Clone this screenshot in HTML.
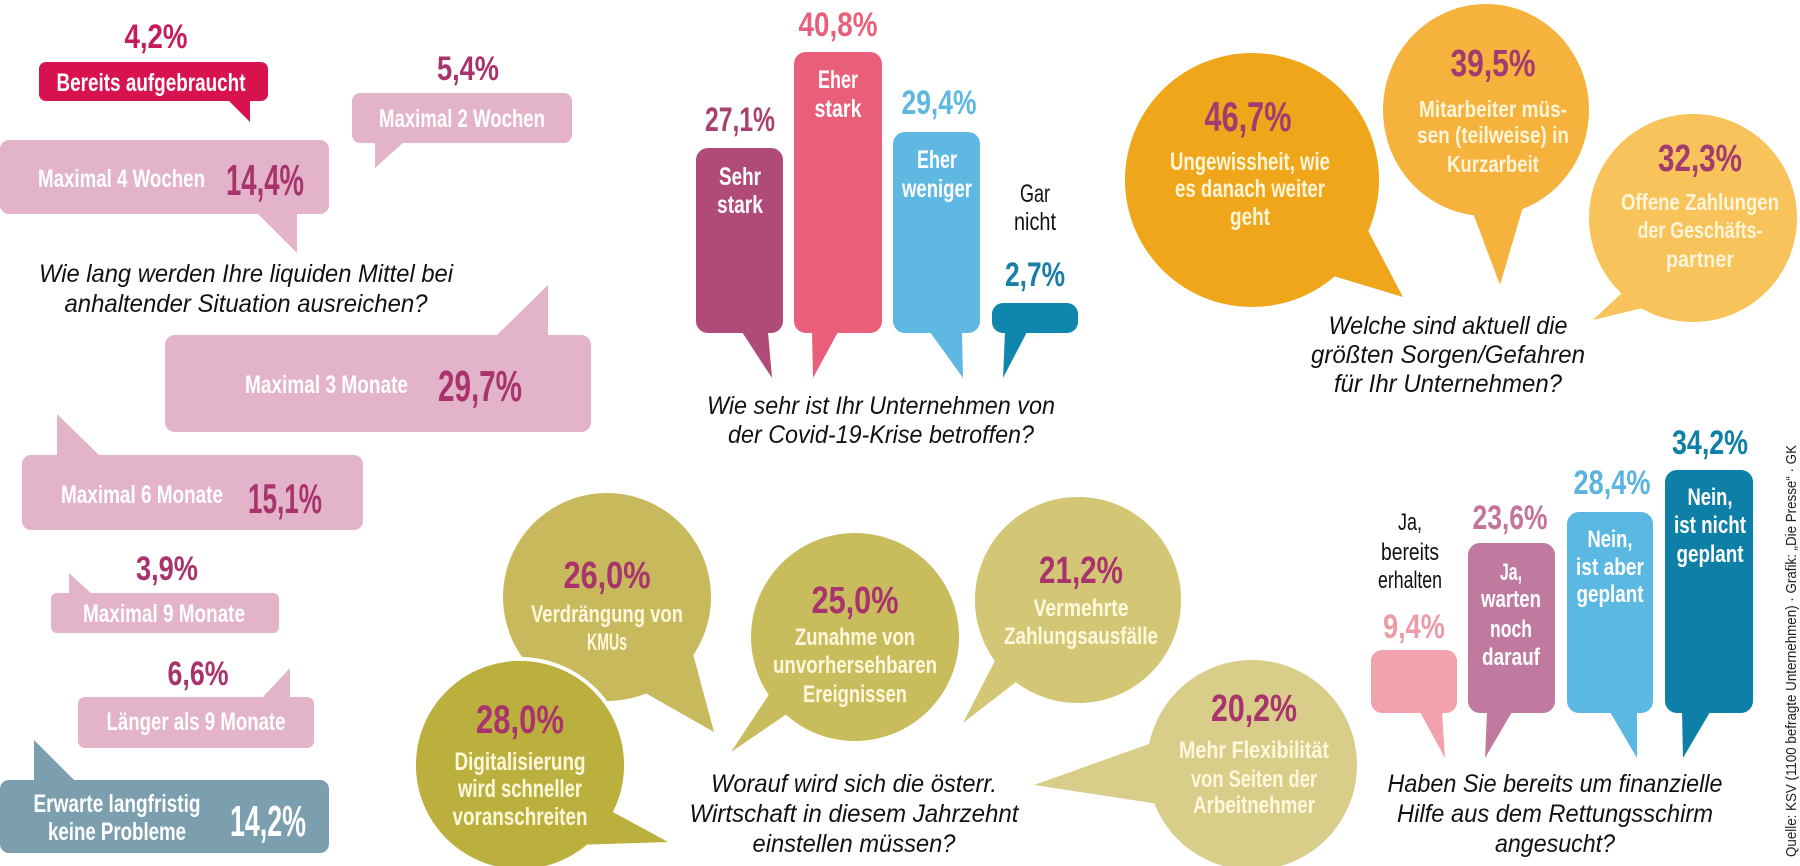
<!DOCTYPE html>
<html><head><meta charset="utf-8"><style>
html,body{margin:0;padding:0;background:#fff;width:1800px;height:866px;overflow:hidden}
svg{display:block}
text{font-family:"Liberation Sans Narrow","Liberation Sans",sans-serif}
.w{fill:#fff}
.q{font-style:italic;font-size:25px;fill:#111}
.p{fill:#a8336d}
.b{font-weight:bold}
</style></head><body>
<svg width="1800" height="866" viewBox="0 0 1800 866" xmlns="http://www.w3.org/2000/svg">
<g font-weight="bold">
<!-- LEFT COLUMN -->
<text x="156" y="48" text-anchor="middle" font-size="34" fill="#c61d5a" textLength="63" lengthAdjust="spacingAndGlyphs">4,2%</text>
<rect x="39" y="62" width="229" height="39" rx="7" fill="#d8114f"/>
<polygon points="228,100 250,122 250,100" fill="#d8114f"/>
<text x="151" y="91" text-anchor="middle" font-size="25" class="w" textLength="189" lengthAdjust="spacingAndGlyphs">Bereits aufgebraucht</text>

<text x="468" y="80" text-anchor="middle" font-size="34" class="p" textLength="62" lengthAdjust="spacingAndGlyphs">5,4%</text>
<rect x="352" y="93" width="220" height="50" rx="8" fill="#e2b3c9"/>
<polygon points="375,142 375,168 404,142" fill="#e2b3c9"/>
<text x="462" y="127" text-anchor="middle" font-size="25" class="w" textLength="166" lengthAdjust="spacingAndGlyphs">Maximal 2 Wochen</text>

<rect x="0" y="140" width="329" height="74" rx="9" fill="#e2b3c9"/>
<polygon points="257,213 297,253 297,213" fill="#e2b3c9"/>
<text x="38" y="187" font-size="25" class="w" textLength="167" lengthAdjust="spacingAndGlyphs">Maximal 4 Wochen</text>
<text x="226" y="195" font-size="44" class="p" textLength="78" lengthAdjust="spacingAndGlyphs">14,4%</text>
</g>
<text x="246" y="282" text-anchor="middle" class="q" textLength="414" lengthAdjust="spacingAndGlyphs">Wie lang werden Ihre liquiden Mittel bei</text>
<text x="246" y="312" text-anchor="middle" class="q" textLength="363" lengthAdjust="spacingAndGlyphs">anhaltender Situation ausreichen?</text>
<g font-weight="bold">
<rect x="165" y="335" width="426" height="97" rx="10" fill="#e2b3c9"/>
<polygon points="496,336 548,285 548,336" fill="#e2b3c9"/>
<text x="245" y="393" font-size="25" class="w" textLength="163" lengthAdjust="spacingAndGlyphs">Maximal 3 Monate</text>
<text x="438" y="401" font-size="44" class="p" textLength="84" lengthAdjust="spacingAndGlyphs">29,7%</text>

<rect x="22" y="455" width="341" height="75" rx="9" fill="#e2b3c9"/>
<polygon points="57,456 57,414 100,456" fill="#e2b3c9"/>
<text x="61" y="503" font-size="25" class="w" textLength="162" lengthAdjust="spacingAndGlyphs">Maximal 6 Monate</text>
<text x="248" y="513" font-size="42" class="p" textLength="74" lengthAdjust="spacingAndGlyphs">15,1%</text>

<text x="167" y="580" text-anchor="middle" font-size="34" class="p" textLength="62" lengthAdjust="spacingAndGlyphs">3,9%</text>
<rect x="51" y="593" width="228" height="40" rx="6" fill="#e2b3c9"/>
<polygon points="69,594 69,573 92,594" fill="#e2b3c9"/>
<text x="164" y="622" text-anchor="middle" font-size="25" class="w" textLength="162" lengthAdjust="spacingAndGlyphs">Maximal 9 Monate</text>

<text x="198" y="685" text-anchor="middle" font-size="34" class="p" textLength="61" lengthAdjust="spacingAndGlyphs">6,6%</text>
<rect x="78" y="697" width="236" height="51" rx="7" fill="#e2b3c9"/>
<polygon points="262,698 290,668 290,698" fill="#e2b3c9"/>
<text x="196" y="730" text-anchor="middle" font-size="25" class="w" textLength="179" lengthAdjust="spacingAndGlyphs">Länger als 9 Monate</text>

<rect x="0" y="780" width="329" height="73" rx="9" fill="#7b9fae"/>
<polygon points="34,781 34,740 75,781" fill="#7b9fae"/>
<text x="117" y="812" text-anchor="middle" font-size="25" class="w" textLength="167" lengthAdjust="spacingAndGlyphs">Erwarte langfristig</text>
<text x="117" y="840" text-anchor="middle" font-size="25" class="w" textLength="138" lengthAdjust="spacingAndGlyphs">keine Probleme</text>
<text x="230" y="836" font-size="44" class="w" textLength="76" lengthAdjust="spacingAndGlyphs">14,2%</text>

<!-- COVID BARS -->
<text x="740" y="131" text-anchor="middle" font-size="34" fill="#a9416f" textLength="70" lengthAdjust="spacingAndGlyphs">27,1%</text>
<rect x="696" y="148" width="87" height="185" rx="12" fill="#b04a78"/>
<polygon points="742,332 772,378 768,332" fill="#b04a78"/>
<text x="740" y="185" text-anchor="middle" font-size="25" class="w" textLength="42" lengthAdjust="spacingAndGlyphs">Sehr</text>
<text x="740" y="213" text-anchor="middle" font-size="25" class="w" textLength="46" lengthAdjust="spacingAndGlyphs">stark</text>

<text x="838" y="36" text-anchor="middle" font-size="34" fill="#e8617c" textLength="79" lengthAdjust="spacingAndGlyphs">40,8%</text>
<rect x="794" y="52" width="88" height="281" rx="12" fill="#e95e79"/>
<polygon points="812,332 813,378 838,332" fill="#e95e79"/>
<text x="838" y="88" text-anchor="middle" font-size="25" class="w" textLength="40" lengthAdjust="spacingAndGlyphs">Eher</text>
<text x="838" y="117" text-anchor="middle" font-size="25" class="w" textLength="47" lengthAdjust="spacingAndGlyphs">stark</text>

<text x="939" y="114" text-anchor="middle" font-size="34" fill="#5fb8e2" textLength="75" lengthAdjust="spacingAndGlyphs">29,4%</text>
<rect x="893" y="132" width="87" height="201" rx="12" fill="#5fb8e2"/>
<polygon points="930,332 963,378 962,332" fill="#5fb8e2"/>
<text x="937" y="168" text-anchor="middle" font-size="25" class="w" textLength="40" lengthAdjust="spacingAndGlyphs">Eher</text>
<text x="937" y="197" text-anchor="middle" font-size="25" class="w" textLength="70" lengthAdjust="spacingAndGlyphs">weniger</text>
</g>
<text x="1035" y="202" text-anchor="middle" font-size="25" fill="#111" textLength="30" lengthAdjust="spacingAndGlyphs">Gar</text>
<text x="1035" y="230" text-anchor="middle" font-size="25" fill="#111" textLength="42" lengthAdjust="spacingAndGlyphs">nicht</text>
<g font-weight="bold">
<text x="1035" y="286" text-anchor="middle" font-size="34" fill="#1a7fa8" textLength="60" lengthAdjust="spacingAndGlyphs">2,7%</text>
<rect x="992" y="303" width="86" height="30" rx="11" fill="#0e86ad"/>
<polygon points="1005,332 1003,378 1027,332" fill="#0e86ad"/>
</g>
<text x="881" y="414" text-anchor="middle" class="q" textLength="348" lengthAdjust="spacingAndGlyphs">Wie sehr ist Ihr Unternehmen von</text>
<text x="881" y="443" text-anchor="middle" class="q" textLength="306" lengthAdjust="spacingAndGlyphs">der Covid-19-Krise betroffen?</text>

<g font-weight="bold">
<!-- ORANGE CIRCLES -->
<ellipse cx="1486" cy="110" rx="103" ry="106" fill="#f5b23c"/>
<polygon points="1470,205 1500,285 1525,200" fill="#f5b23c"/>
<circle cx="1252" cy="180" r="127" fill="#f0a61a"/>
<polygon points="1330,275 1403,297 1365,225" fill="#f0a61a"/>
<circle cx="1693" cy="218" r="104" fill="#f7c35a"/>
<polygon points="1625,290 1593,320 1655,305" fill="#f7c35a"/>

<text x="1248" y="131" text-anchor="middle" font-size="42" fill="#a33a70" textLength="87" lengthAdjust="spacingAndGlyphs">46,7%</text>
<text x="1250" y="170" text-anchor="middle" font-size="25" fill="#fff5d8" textLength="160" lengthAdjust="spacingAndGlyphs">Ungewissheit, wie</text>
<text x="1250" y="197" text-anchor="middle" font-size="25" fill="#fff5d8" textLength="150" lengthAdjust="spacingAndGlyphs">es danach weiter</text>
<text x="1250" y="225" text-anchor="middle" font-size="25" fill="#fff5d8" textLength="40" lengthAdjust="spacingAndGlyphs">geht</text>

<text x="1493" y="76" text-anchor="middle" font-size="38" fill="#a33a70" textLength="85" lengthAdjust="spacingAndGlyphs">39,5%</text>
<text x="1493" y="117" text-anchor="middle" font-size="23" fill="#fff5d8" textLength="148" lengthAdjust="spacingAndGlyphs">Mitarbeiter müs-</text>
<text x="1493" y="143" text-anchor="middle" font-size="23" fill="#fff5d8" textLength="152" lengthAdjust="spacingAndGlyphs">sen (teilweise) in</text>
<text x="1493" y="172" text-anchor="middle" font-size="23" fill="#fff5d8" textLength="92" lengthAdjust="spacingAndGlyphs">Kurzarbeit</text>

<text x="1700" y="171" text-anchor="middle" font-size="38" fill="#a33a70" textLength="84" lengthAdjust="spacingAndGlyphs">32,3%</text>
<text x="1700" y="210" text-anchor="middle" font-size="23" fill="#fff5d8" textLength="158" lengthAdjust="spacingAndGlyphs">Offene Zahlungen</text>
<text x="1700" y="238" text-anchor="middle" font-size="23" fill="#fff5d8" textLength="125" lengthAdjust="spacingAndGlyphs">der Geschäfts-</text>
<text x="1700" y="267" text-anchor="middle" font-size="23" fill="#fff5d8" textLength="68" lengthAdjust="spacingAndGlyphs">partner</text>
</g>
<text x="1448" y="334" text-anchor="middle" class="q" textLength="239" lengthAdjust="spacingAndGlyphs">Welche sind aktuell die</text>
<text x="1448" y="363" text-anchor="middle" class="q" textLength="274" lengthAdjust="spacingAndGlyphs">größten Sorgen/Gefahren</text>
<text x="1448" y="392" text-anchor="middle" class="q" textLength="228" lengthAdjust="spacingAndGlyphs">für Ihr Unternehmen?</text>

<g font-weight="bold">
<!-- OLIVE CIRCLES -->
<circle cx="607" cy="597" r="104" fill="#c8ba5c"/>
<polygon points="640,690 714,732 692,650" fill="#c8ba5c"/>
<circle cx="855" cy="637" r="104" fill="#c9bc5d"/>
<polygon points="800,705 731,752 772,690" fill="#c9bc5d"/>
<circle cx="1252" cy="765" r="105" fill="#d8cd89"/>
<polygon points="1160,740 1034,785 1165,805" fill="#d8cd89"/>
<circle cx="1078" cy="600" r="105" fill="#d3c776" stroke="#fff" stroke-width="4"/>
<polygon points="1025,675 963,723 1003,645" fill="#d3c776"/>
<circle cx="1078" cy="600" r="103" fill="#d3c776"/>
<circle cx="520" cy="765" r="106" fill="#bbaf3e" stroke="#fff" stroke-width="4"/>
<polygon points="600,805 668,842 575,845" fill="#bbaf3e"/>
<circle cx="520" cy="765" r="104" fill="#bbaf3e"/>

<text x="607" y="588" text-anchor="middle" font-size="38" class="p" textLength="87" lengthAdjust="spacingAndGlyphs">26,0%</text>
<text x="607" y="622" text-anchor="middle" font-size="24" fill="#fff8dc" textLength="152" lengthAdjust="spacingAndGlyphs">Verdrängung von</text>
<text x="607" y="650" text-anchor="middle" font-size="24" fill="#fff8dc" textLength="40" lengthAdjust="spacingAndGlyphs">KMUs</text>

<text x="520" y="733" text-anchor="middle" font-size="40" class="p" textLength="88" lengthAdjust="spacingAndGlyphs">28,0%</text>
<text x="520" y="770" text-anchor="middle" font-size="25" fill="#fff8dc" textLength="131" lengthAdjust="spacingAndGlyphs">Digitalisierung</text>
<text x="520" y="797" text-anchor="middle" font-size="25" fill="#fff8dc" textLength="124" lengthAdjust="spacingAndGlyphs">wird schneller</text>
<text x="520" y="825" text-anchor="middle" font-size="25" fill="#fff8dc" textLength="135" lengthAdjust="spacingAndGlyphs">voranschreiten</text>

<text x="855" y="613" text-anchor="middle" font-size="38" class="p" textLength="87" lengthAdjust="spacingAndGlyphs">25,0%</text>
<text x="855" y="645" text-anchor="middle" font-size="24" fill="#fff8dc" textLength="120" lengthAdjust="spacingAndGlyphs">Zunahme von</text>
<text x="855" y="673" text-anchor="middle" font-size="24" fill="#fff8dc" textLength="164" lengthAdjust="spacingAndGlyphs">unvorhersehbaren</text>
<text x="855" y="702" text-anchor="middle" font-size="24" fill="#fff8dc" textLength="104" lengthAdjust="spacingAndGlyphs">Ereignissen</text>

<text x="1081" y="583" text-anchor="middle" font-size="38" class="p" textLength="84" lengthAdjust="spacingAndGlyphs">21,2%</text>
<text x="1081" y="616" text-anchor="middle" font-size="24" fill="#fff8dc" textLength="95" lengthAdjust="spacingAndGlyphs">Vermehrte</text>
<text x="1081" y="644" text-anchor="middle" font-size="24" fill="#fff8dc" textLength="154" lengthAdjust="spacingAndGlyphs">Zahlungsausfälle</text>

<text x="1254" y="721" text-anchor="middle" font-size="38" class="p" textLength="86" lengthAdjust="spacingAndGlyphs">20,2%</text>
<text x="1254" y="758" text-anchor="middle" font-size="24" fill="#fff8dc" textLength="150" lengthAdjust="spacingAndGlyphs">Mehr Flexibilität</text>
<text x="1254" y="787" text-anchor="middle" font-size="24" fill="#fff8dc" textLength="126" lengthAdjust="spacingAndGlyphs">von Seiten der</text>
<text x="1254" y="813" text-anchor="middle" font-size="24" fill="#fff8dc" textLength="122" lengthAdjust="spacingAndGlyphs">Arbeitnehmer</text>
</g>
<text x="854" y="792" text-anchor="middle" class="q" textLength="286" lengthAdjust="spacingAndGlyphs">Worauf wird sich die österr.</text>
<text x="854" y="822" text-anchor="middle" class="q" textLength="329" lengthAdjust="spacingAndGlyphs">Wirtschaft in diesem Jahrzehnt</text>
<text x="854" y="852" text-anchor="middle" class="q" textLength="203" lengthAdjust="spacingAndGlyphs">einstellen müssen?</text>

<!-- RETTUNGSSCHIRM BARS -->
<text x="1410" y="530" text-anchor="middle" font-size="24" fill="#111" textLength="24" lengthAdjust="spacingAndGlyphs">Ja,</text>
<text x="1410" y="560" text-anchor="middle" font-size="24" fill="#111" textLength="58" lengthAdjust="spacingAndGlyphs">bereits</text>
<text x="1410" y="588" text-anchor="middle" font-size="24" fill="#111" textLength="64" lengthAdjust="spacingAndGlyphs">erhalten</text>
<g font-weight="bold">
<text x="1414" y="638" text-anchor="middle" font-size="34" fill="#ee9aa7" textLength="62" lengthAdjust="spacingAndGlyphs">9,4%</text>
<rect x="1371" y="650" width="86" height="63" rx="11" fill="#f2a2ad"/>
<polygon points="1420,712 1445,758 1442,712" fill="#f2a2ad"/>

<text x="1510" y="529" text-anchor="middle" font-size="34" fill="#c4739b" textLength="75" lengthAdjust="spacingAndGlyphs">23,6%</text>
<rect x="1468" y="543" width="87" height="170" rx="12" fill="#c17a9f"/>
<polygon points="1487,712 1485,758 1512,712" fill="#c17a9f"/>
<text x="1511" y="580" text-anchor="middle" font-size="24" class="w" textLength="22" lengthAdjust="spacingAndGlyphs">Ja,</text>
<text x="1511" y="607" text-anchor="middle" font-size="24" class="w" textLength="60" lengthAdjust="spacingAndGlyphs">warten</text>
<text x="1511" y="637" text-anchor="middle" font-size="24" class="w" textLength="42" lengthAdjust="spacingAndGlyphs">noch</text>
<text x="1511" y="665" text-anchor="middle" font-size="24" class="w" textLength="58" lengthAdjust="spacingAndGlyphs">darauf</text>

<text x="1612" y="494" text-anchor="middle" font-size="34" fill="#5ab4de" textLength="77" lengthAdjust="spacingAndGlyphs">28,4%</text>
<rect x="1567" y="512" width="86" height="201" rx="12" fill="#5bb8e3"/>
<polygon points="1610,712 1637,758 1637,712" fill="#5bb8e3"/>
<text x="1610" y="547" text-anchor="middle" font-size="24" class="w" textLength="45" lengthAdjust="spacingAndGlyphs">Nein,</text>
<text x="1610" y="575" text-anchor="middle" font-size="24" class="w" textLength="68" lengthAdjust="spacingAndGlyphs">ist aber</text>
<text x="1610" y="602" text-anchor="middle" font-size="24" class="w" textLength="67" lengthAdjust="spacingAndGlyphs">geplant</text>

<text x="1710" y="454" text-anchor="middle" font-size="34" fill="#0e7fa6" textLength="76" lengthAdjust="spacingAndGlyphs">34,2%</text>
<rect x="1665" y="470" width="88" height="243" rx="12" fill="#0e7fa6"/>
<polygon points="1682,712 1683,758 1710,712" fill="#0e7fa6"/>
<text x="1710" y="505" text-anchor="middle" font-size="24" class="w" textLength="45" lengthAdjust="spacingAndGlyphs">Nein,</text>
<text x="1710" y="533" text-anchor="middle" font-size="24" class="w" textLength="72" lengthAdjust="spacingAndGlyphs">ist nicht</text>
<text x="1710" y="562" text-anchor="middle" font-size="24" class="w" textLength="67" lengthAdjust="spacingAndGlyphs">geplant</text>
</g>
<text x="1555" y="792" text-anchor="middle" class="q" textLength="335" lengthAdjust="spacingAndGlyphs">Haben Sie bereits um finanzielle</text>
<text x="1555" y="822" text-anchor="middle" class="q" textLength="316" lengthAdjust="spacingAndGlyphs">Hilfe aus dem Rettungsschirm</text>
<text x="1555" y="852" text-anchor="middle" class="q" textLength="120" lengthAdjust="spacingAndGlyphs">angesucht?</text>

<text x="1791" y="656" transform="rotate(-90 1791 651)" text-anchor="middle" font-size="15" fill="#222" textLength="412" lengthAdjust="spacingAndGlyphs">Quelle: KSV (1100 befragte Unternehmen) · Grafik: „Die Presse“ · GK</text>
</svg>
</body></html>
